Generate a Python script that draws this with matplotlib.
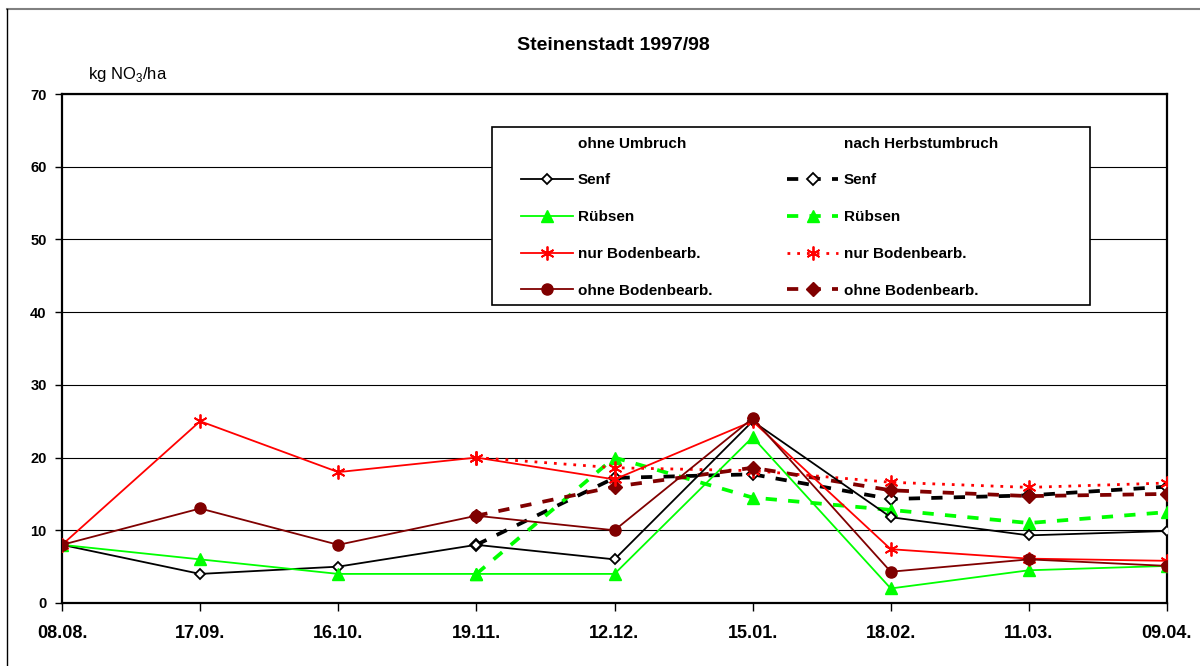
import matplotlib
matplotlib.use("Agg")
import matplotlib.pyplot as plt
from matplotlib.lines import Line2D
from matplotlib.patches import Rectangle

plt.rcParams['font.family'] = ['Liberation Sans', 'DejaVu Sans']
plt.rcParams['mathtext.fontset'] = 'custom'
plt.rcParams['mathtext.rm'] = 'Liberation Sans'

# Daten
dates = ['08.08.', '17.09.', '16.10.', '19.11.', '12.12.', '15.01.', '18.02.', '11.03.', '09.04.']
x = list(range(len(dates)))

# ohne Umbruch
senf = [8, 4, 5, 8, 6, 25, 11.8, 9.3, 9.9]
ruebsen = [8, 6, 4, 4, 4, 22.8, 2, 4.5, 5.1]
nur_boden = [8, 25, 18, 20, 17, 25, 7.4, 6.1, 5.8]
ohne_boden = [8, 13, 8, 12, 10, 25.4, 4.3, 6, 5.1]

# nach Herbstumbruch (ab 19.11.)
x2 = x[3:]
senf_h = [8, 17.2, 17.7, 14.3, 14.8, 16]
ruebsen_h = [4, 20, 14.5, 12.8, 11, 12.5]
nur_boden_h = [20, 18.6, 18.2, 16.6, 15.9, 16.5]
ohne_boden_h = [12, 16, 18.6, 15.5, 14.7, 15]

GREEN = '#00ff00'
RED = '#ff0000'
DRED = '#800000'

fig = plt.figure(figsize=(12, 6.66), dpi=100)
ax = fig.add_axes([62/1200, 63/666, 1105/1200, 509/666])

# Rahmen um das Diagramm
fig.add_artist(Line2D([7/1200, 1], [1-9/666, 1-9/666], transform=fig.transFigure, color='#808080', lw=1.5))
fig.add_artist(Line2D([7/1200, 7/1200], [0, 1-9/666], transform=fig.transFigure, color='black', lw=1.0))

dash = (0, (3, 3))
dot = (0, (1, 2.5))

l1, = ax.plot(x, senf, color='black', lw=1.3, marker='D', ms=5, mfc='white', mec='black', mew=1.3, zorder=5)
l2, = ax.plot(x, ruebsen, color=GREEN, lw=1.3, marker='^', ms=8, mfc=GREEN, mec=GREEN, zorder=5)
l3, = ax.plot(x, nur_boden, color=RED, lw=1.3, marker=(6, 2, 0), ms=10, mec=RED, mew=1.3, zorder=5)
l4, = ax.plot(x, ohne_boden, color=DRED, lw=1.3, marker='o', ms=8, mfc=DRED, mec=DRED, zorder=5)

h1, = ax.plot(x2, senf_h, color='black', lw=2.7, ls=dash, marker='D', ms=6, mfc='white', mec='black', mew=1.3, zorder=4)
h2, = ax.plot(x2, ruebsen_h, color=GREEN, lw=2.7, ls=dash, marker='^', ms=8, mfc=GREEN, mec=GREEN, zorder=4)
h3, = ax.plot(x2, nur_boden_h, color=RED, lw=2, ls=dot, marker=(6, 2, 0), ms=10, mec=RED, mew=1.3, zorder=4)
h4, = ax.plot(x2, ohne_boden_h, color=DRED, lw=2.7, ls=dash, marker='D', ms=7, mfc=DRED, mec=DRED, zorder=4)

ax.set_xlim(0, len(dates) - 1)
ax.set_ylim(0, 70)
ax.set_xticks(x)
ax.set_xticklabels(dates, fontsize=13, fontweight='bold')
ax.set_yticks(range(0, 71, 10))
ax.set_yticklabels([str(v) for v in range(0, 71, 10)], fontsize=10.5, fontweight='bold')
ax.tick_params(axis='x', direction='out', length=6, width=1, pad=10)
ax.tick_params(axis='y', direction='out', length=5, width=1, pad=6)
ax.yaxis.grid(True, color='black', lw=0.8)
ax.set_axisbelow(True)
for s in ax.spines.values():
    s.set_linewidth(1.6)
    s.set_color('black')

fig.text(613/1200, 1-45/666, 'Steinenstadt 1997/98', ha='center', va='center', fontsize=14, fontweight='bold')
fig.text(88/1200, 1-75/666, r'kg NO$_\mathrm{3}$/ha', ha='left', va='center', fontsize=12)

# Legende
fig.add_artist(Rectangle((492/1200, 1-305/666), 598/1200, 178/666, transform=fig.transFigure,
                         facecolor='white', edgecolor='black', lw=1.2, zorder=4))
blank = Line2D([], [], color='none')
handles = [blank, l1, l2, l3, l4, blank, h1, h2, h3, h4]
labels = ['ohne Umbruch', 'Senf', 'Rübsen', 'nur Bodenbearb.', 'ohne Bodenbearb.',
          'nach Herbstumbruch', 'Senf', 'Rübsen', 'nur Bodenbearb.', 'ohne Bodenbearb.']
leg = fig.legend(handles, labels, ncol=2, loc='upper left', bbox_to_anchor=(513/1200, 1-129/666),
                 frameon=False, borderpad=0, numpoints=1, handlelength=3.4, handletextpad=0.35,
                 labelspacing=1.49, columnspacing=4.85, prop={'size': 11, 'weight': 'bold'})
leg.set_zorder(6)

fig.savefig('out.png', dpi=100)
